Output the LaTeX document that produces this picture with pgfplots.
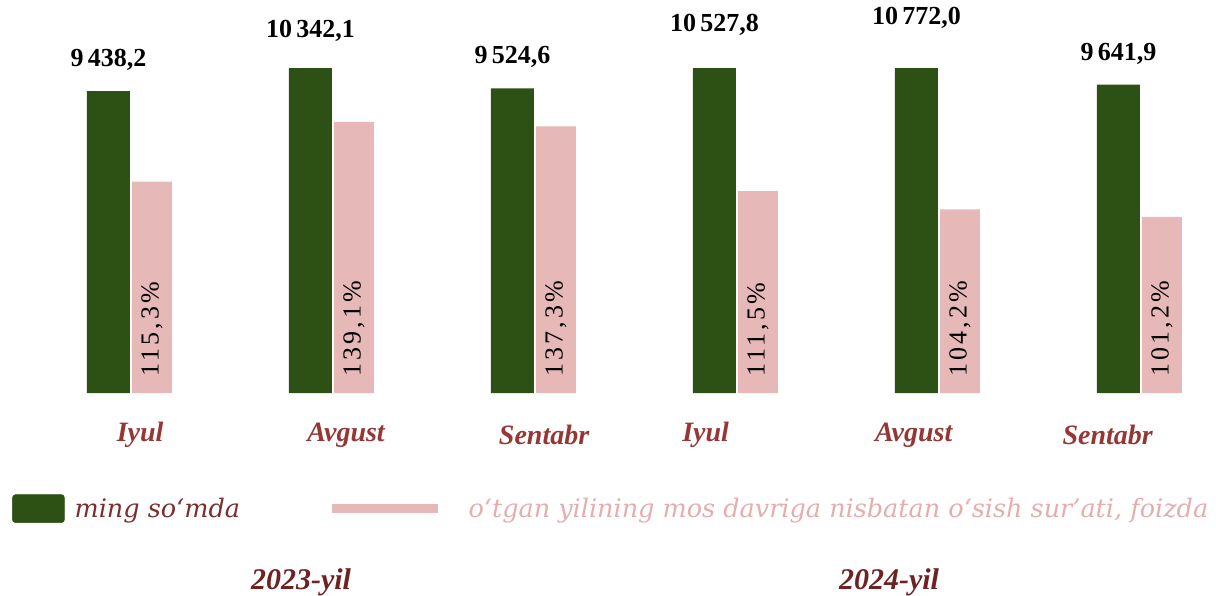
\documentclass[border=0pt]{standalone}
\usepackage{fontspec}
\setmainfont{Liberation Serif}
\newfontfamily\legfont{DejaVu Serif}
\usepackage{pgfplots}
\usepackage{pgfplotstable}
\pgfplotsset{compat=1.18}
\definecolor{barg}{HTML}{2D5114}
\definecolor{barp}{HTML}{E6B8B7}
\definecolor{lblred}{HTML}{953735}
\definecolor{legred}{HTML}{7B2E2E}
\definecolor{yearred}{HTML}{6E2222}
\definecolor{legpink}{HTML}{E3AEAD}

\pgfplotstableread{
x val pct
0 9438.2 115.3
1 10342.1 139.1
2 9524.6 137.3
3 10527.8 111.5
4 10772.0 104.2
5 9641.9 101.2
}\data

\begin{document}
\begin{tikzpicture}[x=1pt,y=1pt]
\useasboundingbox (0,0) rectangle (1216,595);
\pgfplotsset{
 common/.style={
  scale only axis, width=1201.9pt, height=324pt,
  xmin=-0.6, xmax=5.35,
  at={(8.8pt,202pt)}, anchor=south west,
  axis line style={draw=none}, tick style={draw=none},
  ytick=\empty,
  ybar,
 }
}
% green bars (clipped at the top like the original)
\begin{axis}[common, ymin=0, ymax=10131,
 xtick={0.05,1.07,2.05,2.85,3.88,4.84},
 xticklabels={Iyul,Avgust,Sentabr,Iyul,Avgust,Sentabr},
 xticklabel style={font=\fontsize{28}{28}\selectfont\bfseries\itshape, text=lblred, anchor=center, yshift=-38pt},
]
\addplot[fill=barg, draw=none, bar width=43pt, bar shift=-21.5pt]
  table[x=x,y=val]{\data};
\end{axis}
% green value labels
\begin{axis}[common, ymin=0, ymax=10131, xtick=\empty, clip=false,
 /pgf/number format/.cd, fixed, fixed zerofill, precision=1, use comma, 1000 sep={\,}, assume math mode=true,
]
\addplot[draw=none, fill=none, bar width=43pt, bar shift=-21.5pt,
  nodes near coords,
  nodes near coords style={font=\fontsize{26}{26}\selectfont\bfseries, anchor=center,
    yshift=31pt, text=black}]
  table[x=x, y=val]{\data};
\end{axis}
% pink bars
\begin{axis}[common, ymin=31, ymax=160.2, xtick=\empty,
 legend style={at={(0.0027,-0.357)}, anchor=west, draw=none, fill=none, inner sep=0pt,
   font=\legfont\itshape\fontsize{25.5}{25.5}\selectfont,
   /tikz/every odd column/.append style={column sep=8pt},
   /tikz/every even column/.append style={column sep=85pt}},
 legend columns=2, legend cell align=left,
 /pgf/number format/.cd, fixed, fixed zerofill, precision=1, use comma, assume math mode=true,
]
\addlegendimage{legend image code/.code={\fill[barg, rounded corners=3pt] (0pt,-14pt) rectangle (52pt,14pt);}}
\addlegendentry{\textcolor{legred}{ming so‘mda}}
\addplot[fill=barp, draw=none, bar width=40pt, bar shift=22pt,
  legend image code/.code={\path[draw=none, fill=none] (0pt,0pt) -- (127pt,0pt); \draw[barp, line width=9pt, fill=none] (0pt,0pt) -- (106pt,0pt);}]
  table[x=x,y=pct]{\data};
\addlegendentry{\textcolor{legpink}{o‘tgan yilining mos davriga nisbatan o‘sish sur’ati, foizda}}
\addplot[draw=none, fill=none, bar width=40pt, bar shift=22pt, forget plot, point meta=explicit,
  nodes near coords={\pgfmathprintnumber{\pgfplotspointmeta}\%},
  nodes near coords style={rotate=90, anchor=west, inner sep=0pt, text=black,
    font=\fontsize{26}{26}\selectfont\addfontfeatures{LetterSpace=12}}]
  table[x=x, y expr=37.4, meta=pct]{\data};
\end{axis}
\node[font=\fontsize{30}{30}\selectfont\bfseries\itshape, text=yearred] at (301,13) {2023-yil};
\node[font=\fontsize{30}{30}\selectfont\bfseries\itshape, text=yearred] at (889,13) {2024-yil};
\end{tikzpicture}
\end{document}
